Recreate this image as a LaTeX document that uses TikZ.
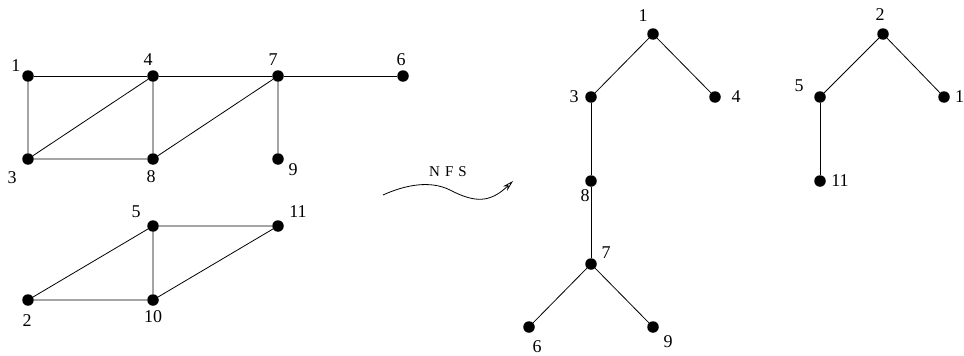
\documentclass[tikz,border=0pt]{standalone}
\usepackage{fontspec}
\setmainfont{Liberation Serif}
\usetikzlibrary{arrows.meta}
\begin{document}
\begin{tikzpicture}[x=1pt,y=-1pt,
  dot/.style={circle,fill=black,inner sep=0pt,minimum size=11.5pt},
  lab/.style={inner sep=0pt,font=\fontsize{18}{20}\selectfont},
  edge/.style={line width=0.8pt}]
\useasboundingbox (0,0) rectangle (964,356);
% left graph 1
\node[dot] (g1) at (28,76) {};
\node[dot] (g4) at (153,76) {};
\node[dot] (g7) at (278,76) {};
\node[dot] (g6) at (403,76) {};
\node[dot] (g3) at (28,159) {};
\node[dot] (g8) at (153,159) {};
\node[dot] (g9) at (278,159) {};
\node[lab] (lg1) at (16,66) {1};
\node[lab] (lg4) at (148,60) {4};
\node[lab] (lg7) at (273,60) {7};
\node[lab] (lg6) at (401,60) {6};
\node[lab] (lg3) at (12,178) {3};
\node[lab] (lg8) at (151,177) {8};
\node[lab] (lg9) at (293,170) {9};
\draw[edge] (g1) -- (g4) -- (g7) -- (g6);
\draw[edge] (g1) -- (g3) -- (g8) -- (g4) -- (g3);
\draw[edge] (g8) -- (g7) -- (g9);
% left graph 2
\node[dot] (g5) at (153,226) {};
\node[dot] (g11) at (278,226) {};
\node[dot] (g2) at (28,300) {};
\node[dot] (g10) at (153,300) {};
\node[lab] (lg5) at (136,212) {5};
\node[lab] (lg11) at (298,212) {11};
\node[lab] (lg2) at (27,321) {2};
\node[lab] (lg10) at (153,317) {10};
\draw[edge] (g5) -- (g11) -- (g10) -- (g2) -- (g5) -- (g10);
% arrow
\coordinate (as) at (383,195);
\coordinate (ae) at (513,181);
\node[lab,font=\fontsize{15}{17}\selectfont] (nfs) at (448,172) {N\,\,F\,\,S};
\draw[edge,-{Stealth[open,length=11pt,width=6pt]}] (as) .. controls (405,185) and (430,180) .. (450,190) .. controls (475,203) and (490,203) .. (ae);
% tree 1
\node[dot] (t1) at (653,34) {};
\node[dot] (t3) at (591,97) {};
\node[dot] (t4) at (715,97) {};
\node[dot] (t8) at (591,181) {};
\node[dot] (t7) at (591,264) {};
\node[dot] (t6) at (529,327) {};
\node[dot] (t9) at (653,327) {};
\node[lab] (lt1) at (643,16) {1};
\node[lab] (lt3) at (574,97) {3};
\node[lab] (lt4) at (736,97) {4};
\node[lab] (lt8) at (585,196) {8};
\node[lab] (lt7) at (606,253) {7};
\node[lab] (lt6) at (537,347) {6};
\node[lab] (lt9) at (668,342) {9};
\draw[edge] (t3) -- (t1) -- (t4);
\draw[edge] (t3) -- (t8) -- (t7);
\draw[edge] (t6) -- (t7) -- (t9);
% tree 2
\node[dot] (u2) at (883,34) {};
\node[dot] (u5) at (820,97) {};
\node[dot] (u10) at (944,97) {};
\node[dot] (u11) at (820,181) {};
\node[lab] (lu2) at (880,15) {2};
\node[lab] (lu5) at (799,86) {5};
\node[lab,anchor=west] (lu10) at (955,97) {1};
\node[lab] (lu11) at (840,181) {11};
\draw[edge] (u5) -- (u2) -- (u10);
\draw[edge] (u5) -- (u11);
\end{tikzpicture}
\end{document}
